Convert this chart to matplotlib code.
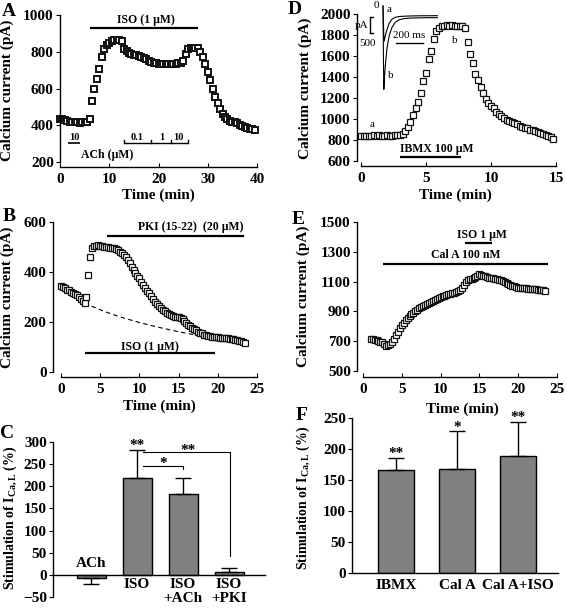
#Importing Libraries
import numpy as np
import matplotlib
matplotlib.use("Agg")
import matplotlib.pyplot as plt

#Fonts - bold Times-like text everywhere
plt.rcParams["font.family"] = ["Liberation Serif", "DejaVu Serif"]
plt.rcParams["font.weight"] = "bold"
plt.rcParams["mathtext.fontset"] = "custom"
plt.rcParams["mathtext.rm"] = "Liberation Serif:bold"
plt.rcParams["mathtext.it"] = "Liberation Serif:bold"
plt.rcParams["mathtext.bf"] = "Liberation Serif:bold"
plt.rcParams["axes.linewidth"] = 1.0

W, H = 567, 608

#Panel A - ISO with ACh (one point every 0.5 min)
a_step = 0.5
a_current = [435, 432, 428, 425, 420, 418, 415, 415, 414, 415, 416, 418,
             435, 530, 600, 652, 708, 770, 815, 838, 850, 856, 862, 865,
             866, 860, 815, 805, 795, 790, 785, 780, 775, 770, 765, 758,
             750, 745, 740, 738, 736, 735, 735, 736, 735, 734, 735, 736,
             737, 740, 750, 790, 815, 822, 822, 820, 818, 800, 770, 735,
             690, 645, 595, 555, 520, 490, 462, 445, 432, 425, 418, 415,
             410, 404, 398, 392, 386, 382, 378, 375]

#Panel B - ISO then PKI (one point every 0.25 min)
b_step = 0.25
b_current = [345, 340, 335, 330, 328, 322, 316, 312,
             308, 300, 292, 285, 278, 300, 390, 460,
             495, 505, 506, 508, 505, 505, 502, 500,
             500, 498, 497, 495, 492, 488, 482, 476,
             468, 460, 450, 438, 422, 408, 396, 385,
             375, 362, 350, 338, 325, 315, 303, 292,
             282, 273, 265, 258, 250, 244, 238, 233,
             228, 224, 222, 221, 220, 217, 214, 205,
             198, 190, 184, 178, 172, 167, 162, 158,
             155, 150, 148, 145, 143, 142, 141, 140,
             140, 138, 137, 136, 135, 136, 134, 133,
             132, 130, 128, 126, 125, 122, 115]
#run-down (dashed)
b_fit_time = [3, 4, 5, 6, 7, 8, 9, 10, 11, 12, 13, 14, 15, 16, 17, 18, 19]
b_fit_current = [276, 262, 249, 237, 226, 216, 207, 198, 190, 182, 175, 168,
                 161, 155, 149, 143, 138]

#Panel D - IBMX (one point every 0.2 min)
d_step = 0.2
d_current = [840, 838, 842, 838, 840, 843, 840, 845, 842, 840,
             845, 842, 840, 845, 848, 850, 860, 885, 925, 975,
             1040, 1105, 1165, 1250, 1360, 1440, 1570, 1650, 1760, 1840,
             1870, 1890, 1890, 1895, 1890, 1895, 1890, 1885, 1885, 1885,
             1865, 1730, 1615, 1530, 1430, 1370, 1305, 1245, 1195, 1155,
             1120, 1100, 1070, 1050, 1030, 1010, 995, 985, 972, 960,
             948, 938, 928, 918, 910, 900, 892, 884, 876, 868,
             858, 850, 840, 828, 810]

#Inset current traces (ms, pA)
inset_ms = [0, 3, 6, 9, 14, 20, 30, 45, 65, 90, 120, 160, 210, 270, 340, 400]
inset_a = [0, -500, -900, -1050, -950, -850, -700, -520, -400, -340, -315,
           -305, -298, -294, -292, -290]
inset_b = [0, -1500, -2500, -2300, -1950, -1650, -1250, -900, -650, -490,
           -410, -375, -360, -355, -350, -350]

#Panel E - Cal A then ISO (one point every 0.25 min from 1 min)
e_start = 1.0
e_step = 0.25
e_current = [715, 712, 708, 705, 700, 695, 690, 680,
             668, 670, 680, 695, 715, 738, 760, 785,
             805, 822, 840, 858, 870, 880, 892, 902,
             912, 920, 928, 936, 944, 950, 956, 962,
             970, 975, 982, 988, 995, 1000, 1005, 1010,
             1015, 1018, 1022, 1026, 1030, 1035, 1042, 1055,
             1075, 1095, 1108, 1115, 1120, 1125, 1130, 1140,
             1150, 1148, 1140, 1135, 1132, 1128, 1125, 1122,
             1118, 1115, 1112, 1108, 1103, 1098, 1092, 1086,
             1080, 1074, 1068, 1064, 1060, 1058, 1056, 1055,
             1054, 1052, 1050, 1050, 1049, 1048, 1046, 1045,
             1044, 1042, 1040]

#Panel C - bar summary
c_labels = ["ACh", "ISO", "ISO\n+ACh", "ISO\n+PKI"]
c_means = [-8, 219, 183, 7]
c_errs = [13, 63, 35, 8]

#Panel F - bar summary
f_labels = ["IBMX", "Cal A", "Cal A+ISO"]
f_means = [166, 168, 189]
f_errs = [20, 61, 55]
f_stars = ["**", "*", "**"]

BAR_GRAY = "#808080"
FS = 11

fig = plt.figure(figsize=(W / 100, H / 100), dpi=100)


#Axes placed by pixel box (left, top, right, bottom)
def make_axes(left, top, right, bottom):
    return fig.add_axes([left / W, 1 - bottom / H, (right - left) / W, (bottom - top) / H])


def fig_text(x, y, s, **kw):
    fig.text(x / W, 1 - y / H, s, **kw)


def time_axes(ax, xmax, xstep, ylo, yhi, ystep):
    for s in ["top", "right"]:
        ax.spines[s].set_visible(False)
    ax.spines["left"].set_bounds(ylo, yhi)
    ax.spines["bottom"].set_bounds(0, xmax)
    ax.set_xticks(np.arange(0, xmax + 0.01, xstep))
    ax.set_yticks(np.arange(ylo, yhi + 1, ystep))
    ax.tick_params(axis="x", direction="in", length=3, pad=4, labelsize=FS)
    ax.tick_params(axis="y", direction="out", length=3, pad=1.5, labelsize=FS)


def squares(ax, t, y, ms=3.9, mew=0.9):
    ax.plot(t, y, "s", ms=ms, mfc="white", mec="#111111", mew=mew, clip_on=False)


def bar_line(ax, x0, x1, y, lw=1.6):
    ax.plot([x0, x1], [y, y], color="black", lw=lw, solid_capstyle="butt")


#---------------- Panel A ----------------
axA = make_axes(60, 13, 260, 167)
axA.set_xlim(0, 40.6)
axA.set_ylim(172.8, 1010.9)
time_axes(axA, 40, 10, 200, 1000, 200)
squares(axA, a_step * np.arange(len(a_current)), a_current, ms=4.3, mew=1.4)
bar_line(axA, 6, 28, 928)
axA.text(17.4, 973, "ISO (1 µM)", ha="center", va="center", fontsize=8.5)
bar_line(axA, 1.7, 4.05, 305, lw=1.2)
axA.text(2.9, 334, "10", ha="center", va="center", fontsize=7.5)
bar_line(axA, 12.97, 25.9, 305, lw=1.0)
for tx in [12.97, 18.4, 22.6, 25.9]:
    axA.plot([tx, tx], [305, 322], color="black", lw=1.0)
for lab, tx in [("0.1", 15.7), ("1", 20.7), ("10", 24.0)]:
    axA.text(tx, 334, lab, ha="center", va="center", fontsize=7.5)
axA.text(9.6, 240, "ACh (µM)", ha="center", va="center", fontsize=8.5)

#---------------- Panel D ----------------
axD = make_axes(357, 12, 559, 166)
axD.set_xlim(-0.31, 15.23)
axD.set_ylim(552.4, 2019)
time_axes(axD, 15, 5, 600, 2000, 200)
squares(axD, d_step * np.arange(len(d_current)), d_current)
bar_line(axD, 3.0, 7.72, 638)
axD.text(5.8, 717, "IBMX 100 µM", ha="center", va="center", fontsize=8.5)
axD.text(0.87, 943, "a", ha="center", va="center", fontsize=8, fontweight="normal")
axD.text(7.2, 1752, "b", ha="center", va="center", fontsize=8, fontweight="normal")

#Inset traces in D
ins = make_axes(355, 0, 445, 100)
ins.axis("off")
ins.set_xlim(-206, 456)
ins.set_ylim(-2820, 180)
ins.plot(inset_ms, inset_a, color="black", lw=0.8)
ins.plot(inset_ms, inset_b, color="black", lw=0.8)
ins.plot([-96, -96], [-321, -819], color="black", lw=1.0)
ins.plot([-96, -74], [-321, -321], color="black", lw=1.0)
ins.plot([-96, -74], [-819, -819], color="black", lw=1.0)
ins.plot([96, 294], [-1100, -1100], color="black", lw=1.0)
for s, x, y in [("0", -46, 0), ("a", 46, -120), ("b", 59, -2070), ("pA", -160, -570),
                ("500", -110, -1110), ("200 ms", 191, -900)]:
    ins.text(x, y, s, ha="center", va="center", fontsize=8, fontweight="normal")

#---------------- Panel B ----------------
axB = make_axes(53, 220, 260, 377)
axB.set_xlim(-1.02, 25.38)
axB.set_ylim(-20, 608)
time_axes(axB, 25, 5, 0, 600, 200)
axB.plot(b_fit_time, b_fit_current, "--", color="black", lw=0.8, dashes=(4, 3))
squares(axB, b_step * np.arange(len(b_current)), b_current)
bar_line(axB, 5.83, 23.4, 544)
axB.text(16.5, 579, "PKI (15-22)  (20 µM)", ha="center", va="center", fontsize=8.5)
bar_line(axB, 3.06, 19.6, 75)
axB.text(11.4, 101, "ISO (1 µM)", ha="center", va="center", fontsize=8.5)

#---------------- Panel E ----------------
axE = make_axes(357, 220, 560, 377)
axE.set_xlim(-0.77, 25.39)
axE.set_ylim(457.5, 1515.5)
time_axes(axE, 25, 5, 500, 1500, 200)
squares(axE, e_start + e_step * np.arange(len(e_current)), e_current)
bar_line(axE, 13.1, 16.6, 1358)
axE.text(15.3, 1414, "ISO 1 µM", ha="center", va="center", fontsize=8.5)
bar_line(axE, 2.6, 23.8, 1219)
axE.text(13.3, 1280, "Cal A 100 nM", ha="center", va="center", fontsize=8.5)

#---------------- Panel C ----------------
axC = make_axes(53, 440, 265, 597)
axC.set_xlim(-0.826, 3.78)
axC.set_ylim(-50, 304.5)
for s in ["top", "right"]:
    axC.spines[s].set_visible(False)
axC.spines["left"].set_bounds(-50, 300)
axC.spines["bottom"].set_position(("data", 0))
axC.set_xticks([])
axC.set_yticks(np.arange(-50, 301, 50))
axC.tick_params(axis="y", direction="out", length=3, pad=1.5, labelsize=FS)
xc = np.arange(len(c_means))
axC.bar(xc, c_means, width=0.63, color=BAR_GRAY, edgecolor="black", lw=1.0, zorder=2)
lo = [e if m < 0 else 0 for m, e in zip(c_means, c_errs)]
hi = [0 if m < 0 else e for m, e in zip(c_means, c_errs)]
axC.errorbar(xc, c_means, yerr=[lo, hi], fmt="none", ecolor="black", elinewidth=1.0,
             capsize=5.5, capthick=1.0, zorder=3)
axC.text(0, 25, c_labels[0], ha="center", va="center", fontsize=FS)
for i in range(1, len(c_labels)):
    axC.text(xc[i], -8, c_labels[i], ha="center", va="top", fontsize=FS, linespacing=1.1)
#significance brackets
axC.plot([1.13, 3.02, 3.02], [278, 278, 43], color="black", lw=0.8)
axC.plot([1.13, 2.0, 2.0], [246, 246, 238], color="black", lw=0.8)
axC.text(1.0, 293, "**", ha="center", va="center", fontsize=FS)
axC.text(2.1, 281, "**", ha="center", va="center", fontsize=FS)
axC.text(1.57, 252, "*", ha="center", va="center", fontsize=FS)

#---------------- Panel F ----------------
axF = make_axes(352, 416, 558, 573)
axF.set_xlim(-0.721, 2.656)
axF.set_ylim(0, 253.2)
for s in ["top", "right"]:
    axF.spines[s].set_visible(False)
axF.spines["left"].set_bounds(0, 250)
xf = np.arange(len(f_means))
axF.bar(xf, f_means, width=0.6, color=BAR_GRAY, edgecolor="black", lw=1.0, zorder=2)
axF.errorbar(xf, f_means, yerr=[[0] * len(f_errs), f_errs], fmt="none", ecolor="black",
             elinewidth=1.0, capsize=5.5, capthick=1.0, zorder=3)
axF.set_xticks(xf)
axF.set_xticklabels(f_labels)
axF.set_yticks(np.arange(0, 251, 50))
axF.tick_params(axis="x", length=0, pad=4, labelsize=FS)
axF.tick_params(axis="y", direction="out", length=3, pad=1.5, labelsize=FS)
for x, m, e, s in zip(xf, f_means, f_errs, f_stars):
    axF.text(x, m + e + 6, s, ha="center", va="center", fontsize=FS)

#Axis labels and panel letters
for x, y in [(7, 90), (7, 297), (305, 88), (303, 296)]:
    fig_text(x, y, "Calcium current (pA)", rotation=90, ha="center", va="center", fontsize=FS)
for x, y in [(10, 518), (303, 498)]:
    fig_text(x, y, r"Stimulation of I$_{\rm Ca,L}$ (%)", rotation=90, ha="center",
             va="center", fontsize=10)
for x, y in [(158, 195), (455, 195), (159, 406), (462, 409)]:
    fig_text(x, y, "Time (min)", ha="center", va="center", fontsize=FS)
for s, x, y in [("A", 9, 11), ("D", 295, 9), ("B", 9, 217), ("E", 298, 219),
                ("C", 7, 433), ("F", 302, 415)]:
    fig_text(x, y, s, ha="center", va="center", fontsize=14)

fig.savefig("out.png", dpi=100)
